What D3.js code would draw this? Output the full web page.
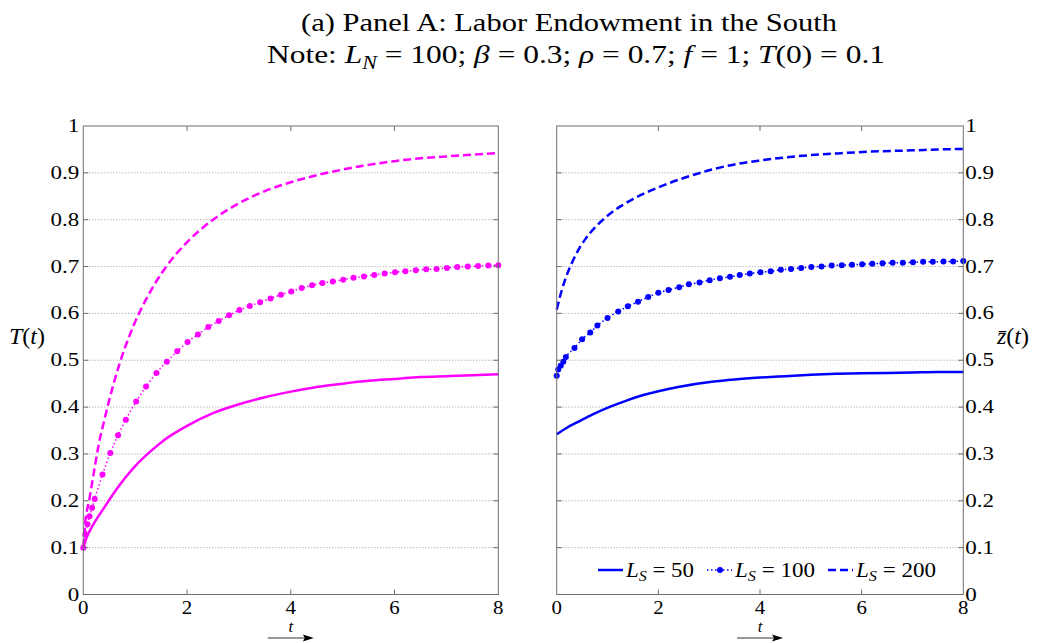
<!DOCTYPE html>
<html>
<head>
<meta charset="utf-8">
<script src="https://cdn.jsdelivr.net/npm/d3@7"></script>
<style>
  body { margin: 0; background: #fff; }
  svg { display: block; }
  text { font-family: "Liberation Serif", "Times New Roman", serif; fill: #000; }
</style>
</head>
<body>
<svg id="chart" width="1039" height="643"></svg>
<script>
// ---- data ----
const tTicks = [0, 2, 4, 6, 8];
const yTicks = [0, 0.1, 0.2, 0.3, 0.4, 0.5, 0.6, 0.7, 0.8, 0.9, 1];
const yTickLabels = ["0", "0.1", "0.2", "0.3", "0.4", "0.5", "0.6", "0.7", "0.8", "0.9", "1"];
const laborSouth = ["50", "100", "200"];

// Panel 1: T(t)
const tT50 = [0, 0.05, 0.13, 0.25, 0.4, 0.58, 0.8, 1.0, 1.3, 1.6, 2.0, 2.5, 3.0, 3.5, 4.0, 4.5, 5.0, 5.5, 6.0, 6.5, 7.0, 7.5, 8.0];
const T50  = [0.10, 0.118, 0.137, 0.160, 0.185, 0.215, 0.248, 0.274, 0.306, 0.333, 0.360, 0.387, 0.406, 0.421, 0.433, 0.443, 0.450, 0.456, 0.460, 0.464, 0.466, 0.468, 0.470];

const tT100 = [0, 0.04, 0.08, 0.12, 0.17, 0.22, 0.37, 0.52, 0.67, 0.82, 1.02, 1.21, 1.41, 1.61, 1.81, 2.01, 2.21, 2.41, 2.61, 2.81, 3.01, 3.21, 3.41, 3.61, 3.81, 4.01, 4.21, 4.41, 4.61, 4.81, 5.01, 5.21, 5.41, 5.61, 5.81, 6.01, 6.21, 6.41, 6.61, 6.81, 7.01, 7.21, 7.41, 7.61, 7.81, 8.0];
const T100  = [0.10, 0.128, 0.150, 0.167, 0.185, 0.204, 0.256, 0.302, 0.340, 0.373, 0.412, 0.444, 0.473, 0.497, 0.519, 0.539, 0.555, 0.571, 0.584, 0.596, 0.607, 0.616, 0.624, 0.632, 0.640, 0.647, 0.654, 0.660, 0.665, 0.668, 0.672, 0.676, 0.679, 0.682, 0.685, 0.688, 0.690, 0.692, 0.694, 0.695, 0.697, 0.699, 0.700, 0.701, 0.702, 0.703];

const tT200 = [0, 0.03, 0.12, 0.2, 0.3, 0.4, 0.5, 0.6, 0.7, 0.8, 0.9, 1.0, 1.1, 1.25, 1.4, 1.6, 1.8, 2.0, 2.5, 3.0, 3.5, 4.0, 4.5, 5.0, 5.5, 6.0, 6.5, 7.0, 7.5, 8.0];
const T200  = [0.10, 0.145, 0.205, 0.258, 0.322, 0.370, 0.415, 0.456, 0.493, 0.526, 0.555, 0.582, 0.606, 0.638, 0.667, 0.700, 0.728, 0.752, 0.800, 0.835, 0.861, 0.880, 0.895, 0.907, 0.917, 0.925, 0.931, 0.935, 0.939, 0.942];

// Panel 2: z-bar(t)
const tZ50 = [0, 0.2, 0.43, 0.7, 1.08, 1.4, 1.74, 2.0, 2.39, 3.05, 3.5, 4.0, 4.5, 5.0, 5.5, 6.0, 6.5, 7.0, 7.5, 8.0];
const Z50  = [0.342, 0.356, 0.369, 0.384, 0.402, 0.415, 0.427, 0.434, 0.443, 0.454, 0.459, 0.463, 0.466, 0.469, 0.471, 0.472, 0.473, 0.474, 0.475, 0.475];

const tZ100 = [0, 0.03, 0.08, 0.13, 0.18, 0.35, 0.50, 0.66, 0.80, 1.0, 1.21, 1.40, 1.60, 1.80, 2.0, 2.2, 2.41, 2.60, 2.81, 3.01, 3.21, 3.41, 3.60, 3.80, 4.01, 4.21, 4.41, 4.61, 4.81, 5.01, 5.21, 5.41, 5.61, 5.81, 6.01, 6.21, 6.41, 6.61, 6.81, 7.01, 7.21, 7.40, 7.61, 7.80, 8.0];
const Z100  = [0.467, 0.480, 0.488, 0.497, 0.507, 0.526, 0.545, 0.559, 0.574, 0.590, 0.604, 0.615, 0.625, 0.635, 0.644, 0.650, 0.656, 0.662, 0.666, 0.671, 0.675, 0.678, 0.682, 0.685, 0.688, 0.690, 0.693, 0.695, 0.697, 0.699, 0.700, 0.702, 0.703, 0.704, 0.705, 0.706, 0.707, 0.708, 0.708, 0.709, 0.710, 0.710, 0.711, 0.711, 0.712];

const tZ200 = [0, 0.08, 0.16, 0.25, 0.33, 0.45, 0.56, 0.75, 0.92, 1.1, 1.28, 1.5, 1.74, 2.0, 2.39, 2.7, 3.05, 3.5, 3.97, 4.5, 5.02, 5.6, 6.33, 7.0, 7.5, 8.0];
const Z200  = [0.608, 0.642, 0.670, 0.696, 0.715, 0.740, 0.758, 0.783, 0.801, 0.817, 0.830, 0.844, 0.857, 0.869, 0.885, 0.896, 0.907, 0.918, 0.926, 0.933, 0.938, 0.942, 0.946, 0.948, 0.950, 0.951];

// ---- drawing ----
const svg = d3.select("#chart");
const MAGENTA = "#ff00ff", BLUE = "#0000ff";
const FRAME = "#6e6e6e";
const yTop = 126, yBot = 594.5;
const y = d3.scaleLinear().domain([0, 1]).range([yBot, yTop]);
const LW = 2.5;

function strokeFor(sel, style, color) {
  return sel.attr("fill", "none").attr("stroke", color)
    .attr("stroke-width", style === "dot" ? 1.5 : LW)
    .attr("stroke-dasharray", style === "dash" ? "8,4" : style === "dot" ? "1.5,2.5" : null);
}

// write a string made of normal / italic / subscript pieces into a text node
function mathText(textSel, parts, size) {
  let shifted = false;
  parts.forEach(([str, kind]) => {
    const ts = textSel.append("tspan").text(str);
    if (kind === "i" || kind === "si") ts.attr("font-style", "italic");
    if (kind === "s" || kind === "si") {
      ts.attr("font-size", size * 0.7).attr("dy", size * 0.22);
      shifted = true;
    } else if (shifted) {
      ts.attr("dy", -size * 0.22);
      shifted = false;
    }
  });
}

function series(ts, vs) { return ts.map((t, i) => [t, vs[i]]); }

function panel(x0, x1, ySide, curves) {
  const x = d3.scaleLinear().domain([0, 8]).range([x0, x1]);
  const g = svg.append("g");

  // horizontal dotted grid
  g.selectAll(".grid").data(yTicks.filter(v => v > 0 && v < 1)).join("line")
    .attr("x1", x0).attr("x2", x1)
    .attr("y1", d => y(d)).attr("y2", d => y(d))
    .attr("stroke", "#9a9a9a").attr("stroke-width", 1)
    .attr("stroke-dasharray", "1,2");

  // curves
  const line = d3.line().x(d => x(d[0])).y(d => y(d[1])).curve(d3.curveMonotoneX);
  curves.forEach(c => {
    const data = series(c.t, c.v);
    strokeFor(g.append("path").datum(data).attr("d", line), c.style, c.color);
    if (c.style === "dot") {
      g.selectAll(null).data(data).join("circle")
        .attr("cx", d => x(d[0])).attr("cy", d => y(d[1])).attr("r", 3)
        .attr("fill", c.color);
    }
  });

  // frame
  g.append("rect").attr("x", x0).attr("y", yTop)
    .attr("width", x1 - x0).attr("height", yBot - yTop)
    .attr("fill", "none").attr("stroke", FRAME).attr("stroke-width", 1);

  // inward ticks, all four sides
  const tl = 5;
  const inner = tTicks.filter(v => v > 0 && v < 8);
  g.selectAll(null).data(inner).join("line")
    .attr("x1", d => x(d)).attr("x2", d => x(d)).attr("y1", yBot).attr("y2", yBot - tl)
    .attr("stroke", FRAME);
  g.selectAll(null).data(inner).join("line")
    .attr("x1", d => x(d)).attr("x2", d => x(d)).attr("y1", yTop).attr("y2", yTop + tl)
    .attr("stroke", FRAME);
  const innerY = yTicks.filter(v => v > 0 && v < 1);
  g.selectAll(null).data(innerY).join("line")
    .attr("x1", x0).attr("x2", x0 + tl).attr("y1", d => y(d)).attr("y2", d => y(d))
    .attr("stroke", FRAME);
  g.selectAll(null).data(innerY).join("line")
    .attr("x1", x1).attr("x2", x1 - tl).attr("y1", d => y(d)).attr("y2", d => y(d))
    .attr("stroke", FRAME);

  // x tick labels
  g.selectAll(null).data(tTicks).join("text")
    .attr("transform", d => `translate(${x(d)},614) scale(1.1,1)`)
    .attr("text-anchor", "middle").attr("font-size", 19)
    .text(d => d);

  // y tick labels
  const yl = ySide === "left" ? x0 - 4 : x1 + 2;
  g.selectAll(null).data(yTicks).join("text")
    .attr("transform", d => `translate(${yl},${y(d) + 6}) scale(1.28,1)`)
    .attr("text-anchor", ySide === "left" ? "end" : "start")
    .attr("font-size", 18)
    .text((d, i) => yTickLabels[i]);

  // t label with arrow
  const xm = (x0 + x1) / 2;
  g.append("text").attr("x", xm).attr("y", 632)
    .attr("text-anchor", "middle").attr("font-size", 17).attr("font-style", "italic").text("t");
  g.append("line").attr("x1", xm - 23).attr("x2", xm + 17).attr("y1", 638).attr("y2", 638)
    .attr("stroke", "#333").attr("stroke-width", 1);
  g.append("path")
    .attr("d", `M${xm + 23},638 L${xm + 12},634.5 L${xm + 14},638 L${xm + 12},641.5 Z`)
    .attr("fill", "#000");
  return x;
}

panel(83.3, 498.3, "left", [
  { t: tT50,  v: T50,  color: MAGENTA, style: "solid" },
  { t: tT100, v: T100, color: MAGENTA, style: "dot" },
  { t: tT200, v: T200, color: MAGENTA, style: "dash" }
]);

panel(556.7, 963.3, "right", [
  { t: tZ50,  v: Z50,  color: BLUE, style: "solid" },
  { t: tZ100, v: Z100, color: BLUE, style: "dot" },
  { t: tZ200, v: Z200, color: BLUE, style: "dash" }
]);

// axis titles
const tl = svg.append("text").attr("x", 9).attr("y", 344).attr("font-size", 24);
mathText(tl, [["T", "i"], ["(", "n"], ["t", "i"], [")", "n"]], 24);

const zl = svg.append("text").attr("x", 997).attr("y", 344).attr("font-size", 24);
mathText(zl, [["z\u0304", "i"], ["(", "n"], ["t", "i"], [")", "n"]], 24);

// title
svg.append("text").attr("x", 569).attr("y", 31).attr("text-anchor", "middle")
  .attr("font-size", 26).attr("textLength", 536).attr("lengthAdjust", "spacingAndGlyphs")
  .text("(a) Panel A: Labor Endowment in the South");
const note = svg.append("text").attr("x", 576).attr("y", 63).attr("text-anchor", "middle")
  .attr("font-size", 26).attr("textLength", 618).attr("lengthAdjust", "spacingAndGlyphs");
mathText(note, [
  ["Note:  ", "n"], ["L", "i"], ["N", "si"], [" = 100;  ", "n"],
  ["\u03B2", "i"], [" = 0.3;  ", "n"], ["\u03C1", "i"], [" = 0.7;  ", "n"],
  ["f", "i"], [" = 1;  ", "n"], ["T", "i"], ["(0) = 0.1", "n"]
], 26);

// legend
const legend = svg.append("g");
const legStyles = ["solid", "dot", "dash"];
const legX = [598, 707, 828];
const legW = [68, 80, 80];
laborSouth.forEach((lab, i) => {
  const lx = legX[i], ly = 570;
  strokeFor(legend.append("line").attr("x1", lx).attr("x2", lx + 25).attr("y1", ly).attr("y2", ly),
    legStyles[i], BLUE);
  if (legStyles[i] === "dot")
    legend.append("circle").attr("cx", lx + 13).attr("cy", ly).attr("r", 3).attr("fill", BLUE);
  const t = legend.append("text").attr("x", lx + 28).attr("y", ly + 7).attr("font-size", 20)
    .attr("textLength", legW[i]).attr("lengthAdjust", "spacingAndGlyphs");
  mathText(t, [["L", "i"], ["S", "si"], [" = " + lab, "n"]], 20);
});
</script>
</body>
</html>
